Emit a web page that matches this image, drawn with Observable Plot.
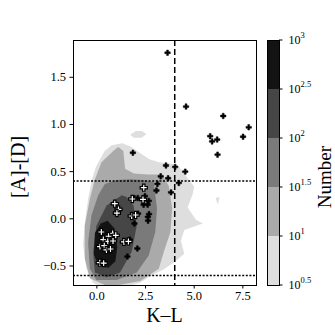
<!DOCTYPE html>
<html><head><meta charset="utf-8">
<script src="https://cdn.jsdelivr.net/npm/d3@7"></script>
<script src="https://cdn.jsdelivr.net/npm/@observablehq/plot@0.6"></script>
<style>
body{margin:0;background:#fff}
#wrap{position:relative;width:335px;height:335px;overflow:hidden}
#wrap svg{position:absolute;left:0;top:0}
</style>
</head><body><div id="wrap"></div>
<script>
const FONT = "'Liberation Serif', 'DejaVu Serif', serif";

// axis ticks
const xTicks = [0, 2.5, 5, 7.5];
const yTicks = [-0.5, 0, 0.5, 1, 1.5];

// axis titles
const xTitle = "K–L";
const yTitle = "[A]-[D]";
const cbTitle = "Number";

// colour-bar levels (log10 Number) and colours
const cbEdges = [0.5, 1, 1.5, 2, 2.5, 3];
const cbColors = ["#dedede", "#aaaaaa", "#7a7a7a", "#464646", "#131313"];
const cbLabels = ["0.5", "1", "1.5", "2", "2.5", "3"];

// reference lines
const vLines = [4];
const hLines = [0.4, -0.6];

// density contour outlines [K-L, [A]-[D]] for each filled level
const level1Main = [[-0.05,0.55],[0.4,0.72],[0.76,0.78],[1.3,0.8],[1.7,0.77],[2.2,0.7],[2.7,0.63],[3.2,0.6],[3.7,0.59],[4.15,0.57],[4.58,0.45],[5.0,0.34],[4.92,0.26],[4.66,0.12],[5.09,-0.01],[5.45,-0.05],[4.49,-0.12],[4.32,-0.23],[4.49,-0.37],[3.97,-0.46],[3.4,-0.54],[2.8,-0.6],[2.2,-0.68],[1.3,-0.73],[0.5,-0.74],[-0.19,-0.68],[-0.54,-0.53],[-0.71,-0.28],[-0.62,-0.05],[-0.45,0.21],[-0.25,0.42]];
const level1Blob = [[1.71,0.89],[2.0,0.93],[2.3,0.93],[2.55,0.9],[2.3,0.86],[1.9,0.86]];
const level1Speck = [[6.1,0.22],[6.3,0.23],[6.22,0.15]];
const level2Ring = [[-0.1,0.42],[0.24,0.6],[0.84,0.72],[1.1,0.76],[1.36,0.72],[1.45,0.53],[1.9,0.48],[2.6,0.47],[3.35,0.47],[3.69,0.35],[3.87,0.11],[3.78,-0.14],[3.44,-0.35],[3.18,-0.53],[2.23,-0.66],[1.2,-0.7],[0.5,-0.71],[-0.36,-0.63],[-0.62,-0.42],[-0.62,-0.07],[-0.36,0.21]];
const level3Ring = [[0.07,0.25],[0.41,0.37],[1.0,0.41],[1.71,0.42],[2.4,0.41],[2.92,0.39],[3.09,0.11],[3.0,-0.14],[2.66,-0.39],[2.05,-0.57],[1.02,-0.65],[-0.02,-0.65],[-0.36,-0.53],[-0.45,-0.25],[-0.28,0.035]];
const level4Ring = [[1.28,0.25],[1.53,0.23],[1.88,0.14],[2.05,-0.07],[1.79,-0.35],[1.19,-0.57],[0.5,-0.62],[-0.1,-0.57],[-0.19,-0.35],[-0.02,-0.07],[0.5,0.14]];
const level5Ring = [[0.55,-0.02],[0.9,-0.1],[1.05,-0.3],[0.95,-0.45],[0.6,-0.52],[0.1,-0.5],[-0.15,-0.38],[-0.1,-0.15],[0.2,-0.05]];

// black "+" sources
const plusX = [3.63,4.58,6.49,7.80,7.51,5.82,5.92,6.18,6.20,1.85,3.55,4.02,4.54,3.28,3.66,4.21,3.11,3.06,3.81,2.47,2.10,2.67,2.40,2.61,1.93,2.68,2.62,2.63,2.12,1.93,1.69,2.08,1.57];
const plusY = [1.76,1.19,1.09,0.97,0.87,0.876,0.82,0.84,0.68,0.70,0.565,0.55,0.50,0.45,0.43,0.38,0.37,0.30,0.28,0.24,0.22,0.19,0.15,0.15,0.22,0.05,0.02,-0.02,0.055,-0.05,-0.22,-0.315,-0.40];

// white markers
const whiteX = [2.41,1.82,2.37,0.92,1.11,1.03,1.79,1.99,0.23,0.81,0.97,0.60,0.33,0.56,0.83,0.16,0.38,0.49,0.70,1.39,1.62,0.15,0.35];
const whiteY = [0.33,0.21,0.205,0.16,0.10,0.06,0.03,0.04,-0.14,-0.155,-0.175,-0.185,-0.22,-0.24,-0.235,-0.295,-0.285,-0.33,-0.32,-0.245,-0.24,-0.465,-0.47];

const rings = [
  {color: cbColors[0], parts: [level1Main, level1Blob, level1Speck]},
  {color: cbColors[1], parts: [level2Ring]},
  {color: cbColors[2], parts: [level3Ring]},
  {color: cbColors[3], parts: [level4Ring]},
  {color: cbColors[4], parts: [level5Ring]}
];
const contourMarks = rings.map(({color, parts}) => {
  const rows = parts.flatMap((p, i) => p.map(([x, y]) => ({x, y, piece: i})));
  return Plot.line(rows, {x: "x", y: "y", z: "piece", fill: color, stroke: "none", curve: "linear-closed", clip: true});
});

const plusPts = plusX.map((x, i) => ({x, y: plusY[i]}));
const whitePts = whiteX.map((x, i) => ({x, y: whiteY[i]}));
const fmt1 = d3.format(".1f");

const main = Plot.plot({
  width: 335, height: 335,
  marginLeft: 73, marginRight: 79, marginTop: 40, marginBottom: 50,
  style: {fontFamily: FONT, fontSize: "12.5px", background: "transparent", color: "black"},
  x: {domain: [-1.2, 8.2]},
  y: {domain: [-0.707, 1.89]},
  marks: [
    ...contourMarks,
    Plot.ruleX(vLines, {stroke: "black", strokeWidth: 1.5, strokeDasharray: "6,3"}),
    Plot.ruleY(hLines, {stroke: "black", strokeWidth: 1.5, strokeDasharray: "2,1.6"}),
    Plot.dot(plusPts, {x: "x", y: "y", symbol: "cross", fill: "black", stroke: "black", strokeWidth: 0.5, r: 2.3}),
    Plot.dot(whitePts, {x: "x", y: "y", symbol: "cross", fill: "white", stroke: "black", strokeWidth: 1.2, r: 3}),
    Plot.frame({stroke: "black", strokeWidth: 1}),
    Plot.axisX({ticks: xTicks, tickFormat: fmt1, tickSize: 3.5, tickPadding: 2.5, fontSize: 12.5, label: null, fill: "black"}),
    Plot.axisY({ticks: yTicks, tickFormat: fmt1, tickSize: 3.5, tickPadding: 4, fontSize: 12.5, label: null, fill: "black"})
  ]
});

const cbRows = cbColors.map((c, i) => ({lo: cbEdges[i], hi: cbEdges[i + 1], color: c}));
const cbTickRows = cbEdges.map((e, i) => ({e, label: cbLabels[i]}));

const cbar = Plot.plot({
  width: 335, height: 335,
  marginLeft: 267, marginRight: 56, marginTop: 40, marginBottom: 50,
  style: {fontFamily: FONT, fontSize: "12px", background: "transparent", color: "black"},
  x: {domain: [0, 1], axis: null},
  y: {domain: [0.5, 3], axis: null},
  color: {type: "identity"},
  marks: [
    Plot.rect(cbRows, {x1: 0, x2: 1, y1: "lo", y2: "hi", fill: "color"}),
    Plot.frame({stroke: "black", strokeWidth: 1}),
    Plot.text(cbTickRows, {x: 1, y: "e", text: () => "10", dx: 9, textAnchor: "start", fontSize: 12, fill: "black"}),
    Plot.text(cbTickRows, {x: 1, y: "e", text: "label", dx: 21, dy: -5, textAnchor: "start", fontSize: 8.5, fill: "black"})
  ]
});

const wrap = document.getElementById("wrap");
wrap.append(main);
wrap.append(cbar);

// colour-bar outward ticks, placed through the colour bar's y scale
const ys = cbar.scale("y");
const cs = d3.select(cbar);
cs.append("g").selectAll("line").data(cbEdges).join("line")
  .attr("x1", 279).attr("x2", 282.5)
  .attr("y1", d => ys.apply(d)).attr("y2", d => ys.apply(d))
  .attr("stroke", "black").attr("stroke-width", 1);

// axis titles
const ms = d3.select(main);
ms.append("text").text(xTitle)
  .attr("x", 164.5).attr("y", 322).attr("text-anchor", "middle")
  .attr("font-size", 20).attr("fill", "black");
ms.append("text").text(yTitle)
  .attr("transform", "translate(25,167) rotate(-90)").attr("text-anchor", "middle")
  .attr("font-size", 20).attr("fill", "black");
cs.append("text").text(cbTitle)
  .attr("transform", "translate(331,177) rotate(-90)").attr("text-anchor", "middle")
  .attr("font-size", 19).attr("fill", "black");
</script></body></html>
